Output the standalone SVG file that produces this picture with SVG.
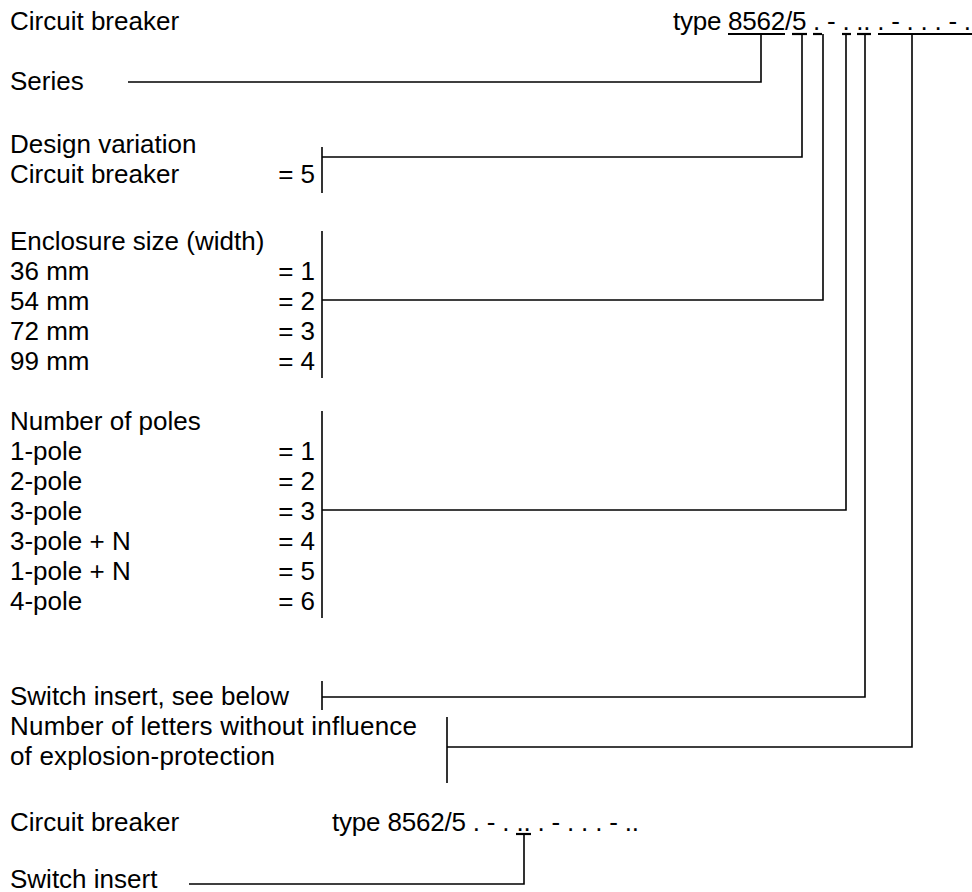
<svg xmlns="http://www.w3.org/2000/svg" width="972" height="892" viewBox="0 0 972 892">
<style>
text{font-family:"Liberation Sans",Arial,sans-serif;font-size:26px;fill:#000}
.r{text-anchor:end}
.ln{stroke:#000;stroke-width:1.6;fill:none}
.ul{stroke:#000;stroke-width:2.2;fill:none}
</style>
<rect width="972" height="892" fill="#fff"/>
<g id="header">
<text x="10" y="30">Circuit breaker</text>
<text x="673" y="30" textLength="298" lengthAdjust="spacing">type 8562/5 . - . .. . - . . . - .</text>
<g class="ul">
<line x1="728" y1="34" x2="785" y2="34"/>
<line x1="792" y1="34" x2="807" y2="34"/>
<line x1="813" y1="34" x2="822" y2="34"/>
<line x1="842" y1="34" x2="851" y2="34"/>
<line x1="857" y1="34" x2="871" y2="34"/>
<line x1="878" y1="34" x2="972" y2="34"/>
</g>
</g>
<g id="series"><text x="10" y="90">Series</text></g>
<g id="design">
<text x="10" y="153">Design variation</text>
<text x="10" y="183">Circuit breaker</text><text class="r" x="315" y="183">= 5</text>
<line class="ln" x1="322" y1="147" x2="322" y2="193"/>
</g>
<g id="enclosure">
<text x="10" y="250">Enclosure size (width)</text>
<text x="10" y="280">36 mm</text><text class="r" x="315" y="280">= 1</text>
<text x="10" y="310">54 mm</text><text class="r" x="315" y="310">= 2</text>
<text x="10" y="340">72 mm</text><text class="r" x="315" y="340">= 3</text>
<text x="10" y="370">99 mm</text><text class="r" x="315" y="370">= 4</text>
<line class="ln" x1="322" y1="231" x2="322" y2="378"/>
</g>
<g id="poles">
<text x="10" y="430">Number of poles</text>
<text x="10" y="460">1-pole</text><text class="r" x="315" y="460">= 1</text>
<text x="10" y="490">2-pole</text><text class="r" x="315" y="490">= 2</text>
<text x="10" y="520">3-pole</text><text class="r" x="315" y="520">= 3</text>
<text x="10" y="550">3-pole + N</text><text class="r" x="315" y="550">= 4</text>
<text x="10" y="580">1-pole + N</text><text class="r" x="315" y="580">= 5</text>
<text x="10" y="610">4-pole</text><text class="r" x="315" y="610">= 6</text>
<line class="ln" x1="322" y1="411" x2="322" y2="618"/>
</g>
<g id="switch">
<text x="10" y="705">Switch insert, see below</text>
<line class="ln" x1="322" y1="681" x2="322" y2="710"/>
</g>
<g id="letters">
<text x="10" y="735" textLength="407" lengthAdjust="spacing">Number of letters without influence</text>
<text x="10" y="765" textLength="265" lengthAdjust="spacing">of explosion-protection</text>
<line class="ln" x1="447" y1="717" x2="447" y2="783"/>
</g>
<g id="bottom">
<text x="10" y="831">Circuit breaker</text>
<text x="332" y="831" textLength="307" lengthAdjust="spacing">type 8562/5 . - . .. . - . . . - ..</text>
<line class="ul" x1="516" y1="834" x2="531" y2="834"/>
<text x="10" y="888">Switch insert</text>
</g>
<g id="connectors" class="ln">
<polyline points="128,82 761,82 761,34"/>
<polyline points="322,157 802,157 802,34"/>
<polyline points="322,300 823,300 823,34"/>
<polyline points="322,510 846,510 846,34"/>
<polyline points="322,697 865,697 865,34"/>
<polyline points="447,747 912,747 912,34"/>
<polyline points="189,884 524,884 524,834"/>
</g>
</svg>
